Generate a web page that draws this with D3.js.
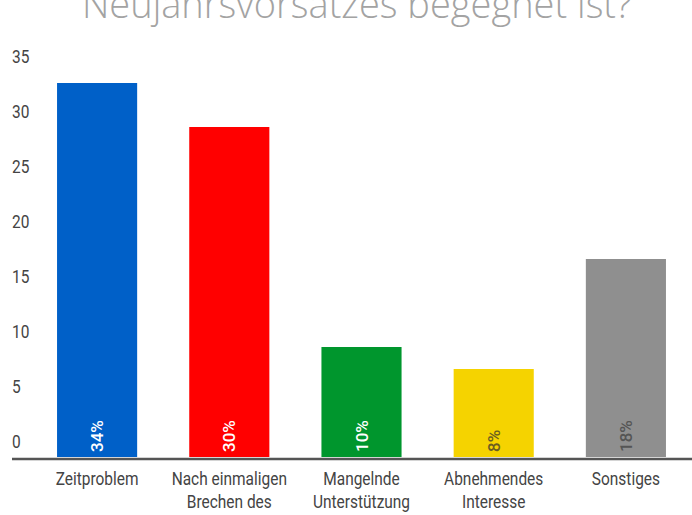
<!DOCTYPE html>
<html lang="de">
  <head>
    <meta charset="UTF-8" />
    <title>neujahrsvorsatz</title>
    <style>
      body { margin: 0; background: #fff; }
      text { font-family: Roboto, "Noto Sans", sans-serif; }
    </style>
  </head>
  <body>
    <svg width="692" height="515" id="svg"></svg>
    <script src="https://cdn.jsdelivr.net/npm/d3@7"></script>
    <script>
      // data
      const categories = [
        ["Zeitproblem"],
        ["Nach einmaligen", "Brechen des"],
        ["Mangelnde", "Unterstützung"],
        ["Abnehmendes", "Interesse"],
        ["Sonstiges"]
      ];
      const values = [34, 30, 10, 8, 18];
      const barColors = ["#0060c8", "#ff0000", "#00962d", "#f5d300", "#8f8f8f"];
      const pctColors = ["#ffffff", "#ffffff", "#ffffff", "#6a5d20", "#555555"];
      const yTicks = [0, 5, 10, 15, 20, 25, 30, 35];
      const title = "Neujahrsvorsatzes begegnet ist?";

      const svg = d3.select("#svg");
      const width = +svg.attr("width");
      const squeeze = 0.86; // condensed look

      const x = d3.scaleBand()
        .domain(d3.range(values.length))
        .range([31, 692])
        .paddingInner(0.394)
        .paddingOuter(0.197);

      const y = d3.scaleLinear().domain([0, 35]).range([457, 72]);

      // title (only its last line is in view, as in the original)
      svg.append("text")
        .attr("x", 357)
        .attr("y", 18)
        .attr("text-anchor", "middle")
        .attr("fill", "#a3a3a3")
        .style("font-family", "'Open Sans', sans-serif")
        .style("font-weight", 300)
        .style("font-size", "38px")
        .text(title);

      // y axis, labels sit above their value
      const yAxis = svg.append("g")
        .attr("transform", "translate(12,0)")
        .call(d3.axisLeft(y).tickValues(yTicks).tickSize(0).tickPadding(0));
      yAxis.select(".domain").remove();
      yAxis.selectAll("text")
        .attr("x", 0)
        .attr("dy", "0.32em")
        .attr("text-anchor", "start")
        .attr("fill", "#444")
        .style("font-size", "18px")
        .attr("transform", d => `translate(0,-15) scale(${squeeze},1)`);

      // bars
      svg.append("g").selectAll("rect")
        .data(values)
        .join("rect")
        .attr("x", (d, i) => x(i))
        .attr("width", x.bandwidth())
        .attr("y", d => y(d))
        .attr("height", d => y(0) - y(d))
        .attr("fill", (d, i) => barColors[i]);

      // percent labels inside bars
      svg.append("g").selectAll("text")
        .data(values)
        .join("text")
        .attr("transform", (d, i) => `translate(${x(i) + x.bandwidth() / 2 + 6},${y(0) - 5}) rotate(-90)`)
        .attr("fill", (d, i) => pctColors[i])
        .style("font-size", "17px")
        .style("font-weight", 500)
        .text(d => d + "%");

      // baseline
      svg.append("line")
        .attr("x1", 12).attr("x2", width)
        .attr("y1", y(0) + 2).attr("y2", y(0) + 2)
        .attr("stroke", "#555")
        .attr("stroke-width", 2.5);

      // category labels
      const xl = svg.append("g").selectAll("g")
        .data(categories)
        .join("g")
        .attr("transform", (d, i) => `translate(${x(i) + x.bandwidth() / 2},485) scale(${squeeze},1)`);
      xl.selectAll("text")
        .data(d => d)
        .join("text")
        .attr("y", (d, j) => j * 23)
        .attr("text-anchor", "middle")
        .attr("fill", "#444")
        .style("font-size", "18px")
        .text(d => d);
    </script>
  </body>
</html>
